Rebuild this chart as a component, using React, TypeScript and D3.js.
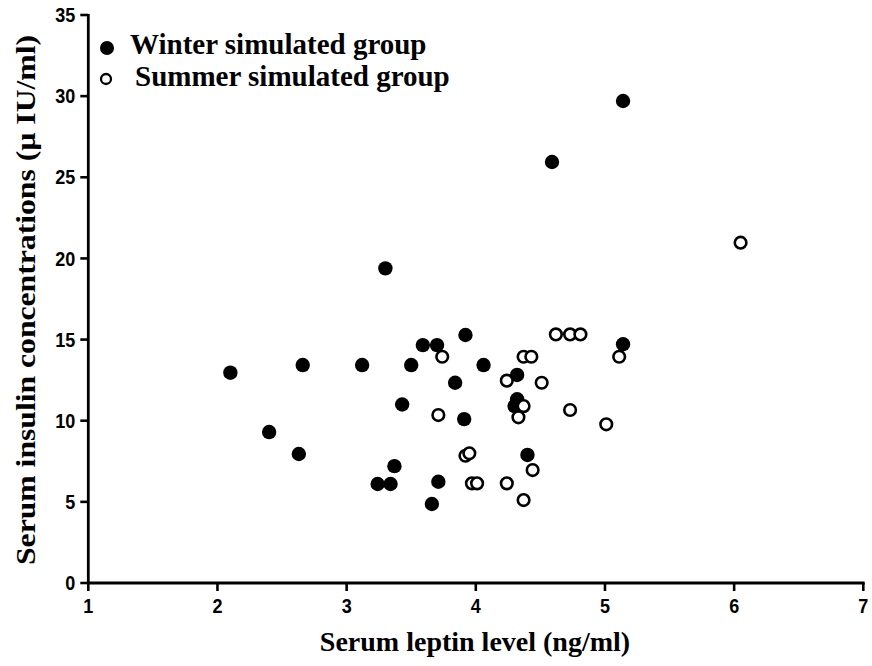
import React from "react";
import * as d3 from "d3";

const winterX = [2.10, 2.40, 2.63, 2.66, 3.12, 3.24, 3.30, 3.34, 3.37, 3.43, 3.50, 3.59, 3.66, 3.70, 3.71, 3.84, 3.91, 3.92, 4.06, 4.30, 4.32, 4.32, 4.40, 4.59, 5.14, 5.14];
const winterY = [12.96, 9.30, 7.95, 13.43, 13.43, 6.10, 19.39, 6.10, 7.20, 11.0, 13.43, 14.66, 4.87, 14.66, 6.24, 12.34, 10.10, 15.28, 13.43, 10.90, 11.32, 12.82, 7.89, 25.94, 29.70, 14.71];

const summerX = [3.71, 3.74, 3.92, 3.95, 3.97, 4.01, 4.24, 4.24, 4.33, 4.37, 4.37, 4.37, 4.43, 4.44, 4.51, 4.62, 4.73, 4.73, 4.81, 5.01, 5.11, 6.05];
const summerY = [10.35, 13.94, 7.84, 7.99, 6.14, 6.14, 12.47, 6.14, 10.21, 13.94, 10.90, 5.11, 13.94, 6.96, 12.34, 15.32, 15.32, 10.66, 15.32, 9.78, 13.94, 20.97];

const xTicks = [1, 2, 3, 4, 5, 6, 7];
const yTicks = [0, 5, 10, 15, 20, 25, 30, 35];

const legendLabels = ["Winter simulated group", "Summer simulated group"];
const xTitle = "Serum leptin level (ng/ml)";
const yTitle = "Serum insulin concentrations (µ IU/ml)";

export default function App() {
  const W = 872, H = 666;
  const x = d3.scaleLinear().domain([1, 7]).range([88.3, 863.3]);
  const y = d3.scaleLinear().domain([0, 35]).range([583, 15]);
  const serif = "'Liberation Serif', 'Times New Roman', serif";
  const sans = "'Liberation Sans', Arial, sans-serif";
  const winter = winterX.map((v, i) => ({ x: v, y: winterY[i] }));
  const summer = summerX.map((v, i) => ({ x: v, y: summerY[i] }));
  return (
    <svg width={W} height={H} style={{ position: "absolute", left: 0, top: 0, background: "#fff" }}>
      {/* axes */}
      <line x1={x(1)} x2={x(1)} y1={y(35) - 1} y2={y(0)} stroke="#000" strokeWidth={2.8} />
      <line x1={x(1) - 1} x2={x(7) + 1.4} y1={y(0)} y2={y(0)} stroke="#000" strokeWidth={2.8} />
      {yTicks.map((t) => (
        <g key={"y" + t}>
          <line x1={x(1) - 8} x2={x(1)} y1={y(t)} y2={y(t)} stroke="#000" strokeWidth={2.6} />
          <text transform={`translate(${x(1) - 13},${y(t)}) scale(0.9,1)`} dy="0.36em" textAnchor="end" fontFamily={sans} fontWeight="bold" fontSize={20}>{t}</text>
        </g>
      ))}
      {xTicks.map((t) => (
        <g key={"x" + t}>
          <line x1={x(t)} x2={x(t)} y1={y(0)} y2={y(0) + 8} stroke="#000" strokeWidth={2.6} />
          <text transform={`translate(${x(t)},613) scale(0.9,1)`} textAnchor="middle" fontFamily={sans} fontWeight="bold" fontSize={20}>{t}</text>
        </g>
      ))}
      {/* titles */}
      <text x={475} y={651} textAnchor="middle" fontFamily={serif} fontWeight="bold" fontSize={28}>{xTitle}</text>
      <text transform={`translate(35,300) rotate(-90)`} textAnchor="middle" fontFamily={serif} fontWeight="bold" fontSize={28} textLength={530} lengthAdjust="spacingAndGlyphs">{yTitle}</text>
      {/* points */}
      {winter.map((d, i) => (
        <circle key={"w" + i} cx={x(d.x)} cy={y(d.y)} r={7.2} fill="#000" />
      ))}
      {summer.map((d, i) => (
        <circle key={"s" + i} cx={x(d.x)} cy={y(d.y)} r={5.8} fill="#fff" stroke="#000" strokeWidth={2.6} />
      ))}
      {/* legend */}
      <circle cx={107} cy={48} r={7} fill="#000" />
      <text x={130} y={54} fontFamily={serif} fontWeight="bold" fontSize={29}>{legendLabels[0]}</text>
      <circle cx={106} cy={79} r={5} fill="#fff" stroke="#000" strokeWidth={2.3} />
      <text x={135} y={86} fontFamily={serif} fontWeight="bold" fontSize={29}>{legendLabels[1]}</text>
    </svg>
  );
}
